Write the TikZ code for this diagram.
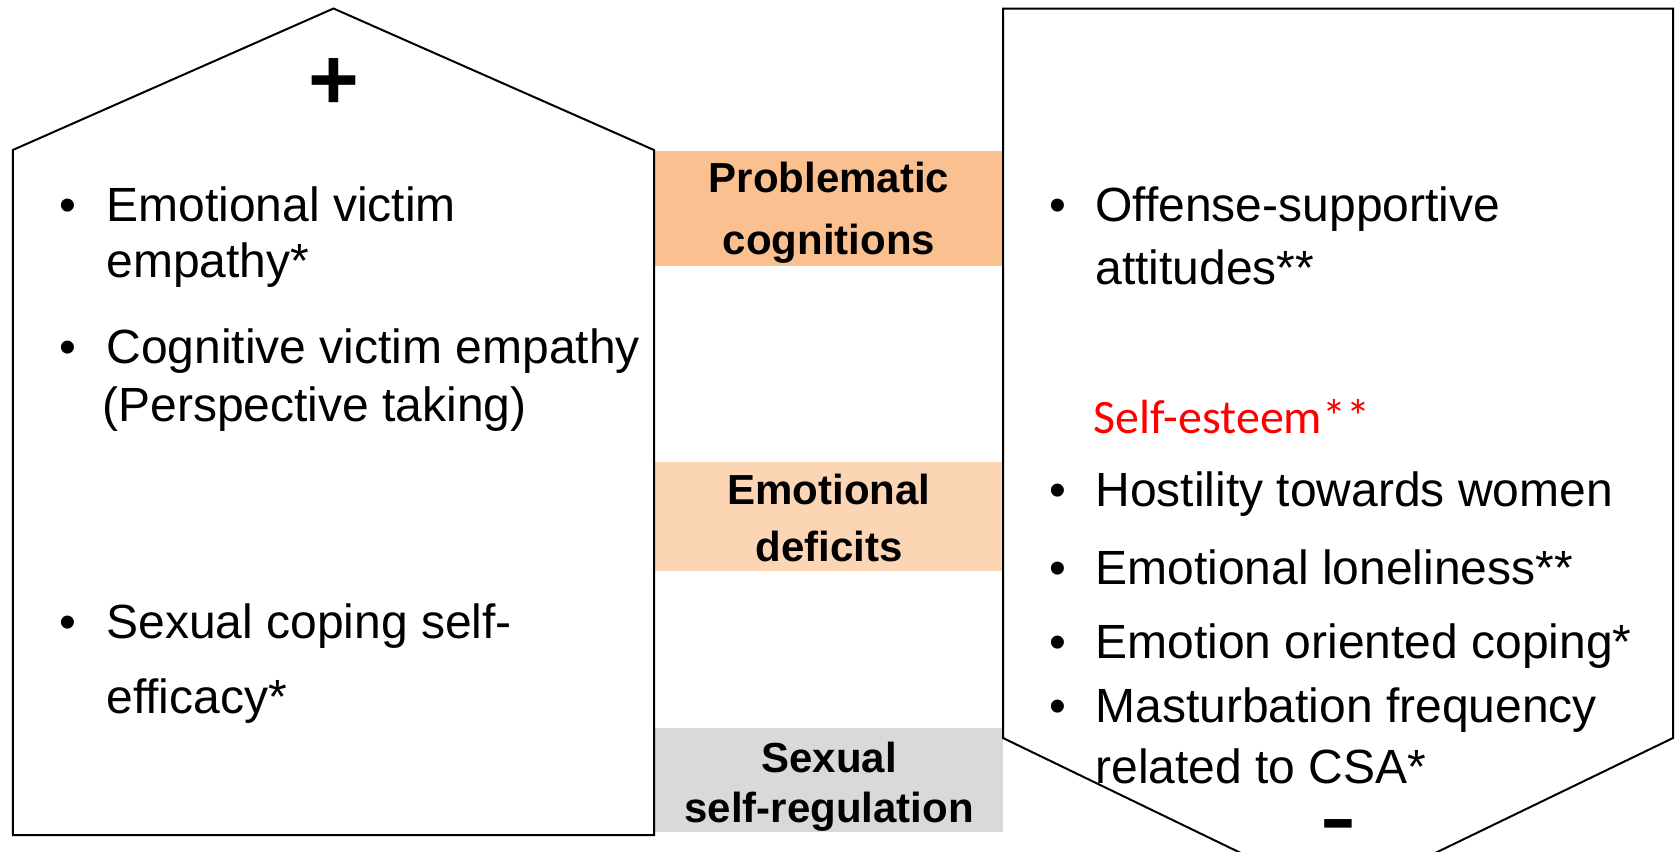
\documentclass[tikz,border=0pt]{standalone}
\usepackage{fontspec}
\setmainfont{Liberation Sans}
\newfontfamily\carlitofont{Carlito}
\definecolor{bandA}{HTML}{FAC090}
\definecolor{bandB}{HTML}{FCD5B5}
\definecolor{bandC}{HTML}{D9D9D9}
\definecolor{redtxt}{HTML}{FF0000}
\tikzset{
  body/.style={anchor=base west, inner sep=0pt, font=\fontsize{24}{28}\selectfont},
  bul/.style={anchor=base, inner sep=0pt, font=\fontsize{24}{28}\selectfont},
  mid/.style={anchor=base, inner sep=0pt, font=\fontsize{21}{25}\selectfont\bfseries},
  outline/.style={draw=black, line width=1pt, line join=miter},
}
\begin{document}
\begin{tikzpicture}[x=0.5pt, y=-0.5pt]
\useasboundingbox (0,0) rectangle (1675,851);
\clip (0,0) rectangle (1675,851);
% middle bands
\fill[bandA] (655,151) rectangle (1003,266);
\fill[bandB] (655,462) rectangle (1003,571);
\fill[bandC] (655,728) rectangle (1003,832);
% left pentagon
\draw[outline] (12.8,835) -- (654,835) -- (654,150) -- (333.5,8.5) -- (12.8,150) -- cycle;
% right pentagon
\draw[outline] (1003,8.5) -- (1673,8.5) -- (1673,738) -- (1338,900) -- (1003,738) -- cycle;
% signs
\node[inner sep=0pt, font=\fontsize{43.5}{50}\selectfont\bfseries] (plus) at (333.5,83.5) {+};
\node[inner sep=0pt, font=\fontsize{36}{40}\selectfont\bfseries] (minus) at (1338,831) {\scalebox{1.5}[1]{-}};
% middle labels
\node[mid] (m1a) at (829,192) {Problematic};
\node[mid] (m1b) at (829,254) {cognitions};
\node[mid] (m2a) at (829,504) {Emotional};
\node[mid] (m2b) at (829,561) {deficits};
\node[mid] (m3a) at (829,772) {Sexual};
\node[mid] (m3b) at (829,822) {self-regulation};
% left items
\node[bul] (lb1) at (68,221.5) {•};
\node[body] (l1a) at (106,221.5) {Emotional victim};
\node[body] (l1b) at (106,277.5) {empathy*};
\node[bul] (lb2) at (68,363) {•};
\node[body] (l2a) at (106,363) {Cognitive victim empathy};
\node[body] (l2b) at (102,421) {(Perspective taking)};
\node[bul] (lb3) at (68,638) {•};
\node[body] (l3a) at (106,638) {Sexual coping self-};
\node[body] (l3b) at (106,713) {efficacy*};
% right items
\node[bul] (rb1) at (1058,221) {•};
\node[body] (r1a) at (1095,221) {Offense-supportive};
\node[body] (r1b) at (1095,284) {attitudes**};
\node[body, text=redtxt, font=\fontsize{24}{28}\selectfont\carlitofont] (rse) at (1093,433) {Self-esteem**};
\node[bul] (rb2) at (1058,506) {•};
\node[body] (r2) at (1095,506) {Hostility towards women};
\node[bul] (rb3) at (1058,584) {•};
\node[body] (r3) at (1095,584) {Emotional loneliness**};
\node[bul] (rb4) at (1058,658) {•};
\node[body] (r4) at (1095,658) {Emotion oriented coping*};
\node[bul] (rb5) at (1058,722) {•};
\node[body] (r5a) at (1095,722) {Masturbation frequency};
\node[body] (r5b) at (1095,783) {related to CSA*};
\end{tikzpicture}
\end{document}
